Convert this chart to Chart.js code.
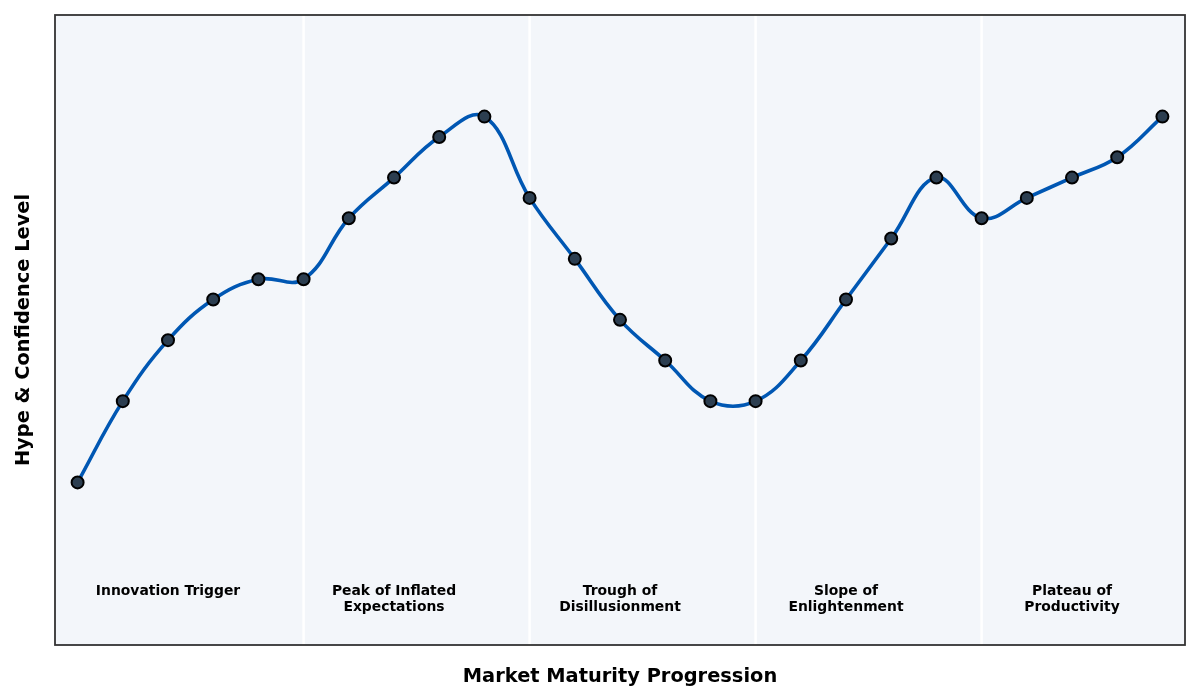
<!DOCTYPE html>
<html>
<head>
<meta charset="utf-8">
<script src="https://cdn.jsdelivr.net/npm/chart.js@4"></script>
<style>
  html, body { margin: 0; padding: 0; background: #ffffff; }
  #wrap { width: 1200px; height: 700px; }
</style>
</head>
<body>
<div id="wrap"><canvas id="hype" width="1200" height="700"></canvas></div>
<script>
// hype curve values, one per step along the x axis
const hypeValues = [20, 40, 55, 65, 70, 70, 85, 95, 105, 110, 90, 75, 60, 50, 40, 40, 50, 65, 80, 95, 85, 90, 95, 100, 110];
const phaseLabels = [
    ['Innovation Trigger'],
    ['Peak of Inflated', 'Expectations'],
    ['Trough of', 'Disillusionment'],
    ['Slope of', 'Enlightenment'],
    ['Plateau of', 'Productivity']
];
const phaseCenters = [2, 7, 12, 17, 22];
const phaseBoundaries = [5, 10, 15, 20];
const phaseLabelY = -6.8;
const xTitle = 'Market Maturity Progression';
const yTitle = 'Hype & Confidence Level';

const points = hypeValues.map((v, i) => ({ x: i, y: v }));

// background, phase dividers, phase names and axis titles
const decorations = {
    id: 'decorations',
    beforeDatasetsDraw(chart) {
        const { ctx, chartArea: a, scales: { x, y } } = chart;
        ctx.save();
        ctx.fillStyle = '#f3f6fa';
        ctx.fillRect(a.left, a.top, a.right - a.left, a.bottom - a.top);

        ctx.strokeStyle = '#ffffff';
        ctx.lineWidth = 2.5;
        phaseBoundaries.forEach(b => {
            const px = x.getPixelForValue(b);
            ctx.beginPath();
            ctx.moveTo(px, a.top);
            ctx.lineTo(px, a.bottom);
            ctx.stroke();
        });

        ctx.fillStyle = '#000000';
        ctx.font = 'bold 13.9px "DejaVu Sans"';
        ctx.textAlign = 'center';
        ctx.textBaseline = 'middle';
        phaseLabels.forEach((lines, i) => {
            const px = x.getPixelForValue(phaseCenters[i]);
            const py = y.getPixelForValue(phaseLabelY);
            lines.forEach((t, j) => ctx.fillText(t, px, py + j * 16));
        });
        ctx.restore();
    },
    afterDraw(chart) {
        const { ctx, chartArea: a } = chart;
        ctx.save();
        ctx.strokeStyle = '#333333';
        ctx.lineWidth = 1.8;
        ctx.strokeRect(a.left, a.top, a.right - a.left, a.bottom - a.top);

        ctx.fillStyle = '#000000';
        ctx.font = 'bold 19.4px "DejaVu Sans"';
        ctx.textAlign = 'center';
        ctx.textBaseline = 'middle';
        ctx.fillText(xTitle, (a.left + a.right) / 2, 677);
        ctx.translate(24, (a.top + a.bottom) / 2);
        ctx.rotate(-Math.PI / 2);
        ctx.fillText(yTitle, 0, 0);
        ctx.restore();
    }
};

new Chart(document.getElementById('hype'), {
    type: 'line',
    data: {
        datasets: [{
            label: 'Hype',
            data: points,
            borderColor: '#0057b3',
            borderWidth: 3.6,
            tension: 0.4,
            pointRadius: 6,
            pointBackgroundColor: '#2c3e50',
            pointBorderColor: '#000000',
            pointBorderWidth: 2,
            fill: false
        }]
    },
    options: {
        responsive: false,
        animation: false,
        devicePixelRatio: 1,
        layout: { padding: { left: 55, right: 15, top: 15, bottom: 55 } },
        scales: {
            x: { type: 'linear', min: -0.5, max: 24.5, display: false },
            y: { min: -20, max: 135, display: false }
        },
        plugins: {
            legend: { display: false },
            tooltip: { enabled: false }
        }
    },
    plugins: [decorations]
});
</script>
</body>
</html>
